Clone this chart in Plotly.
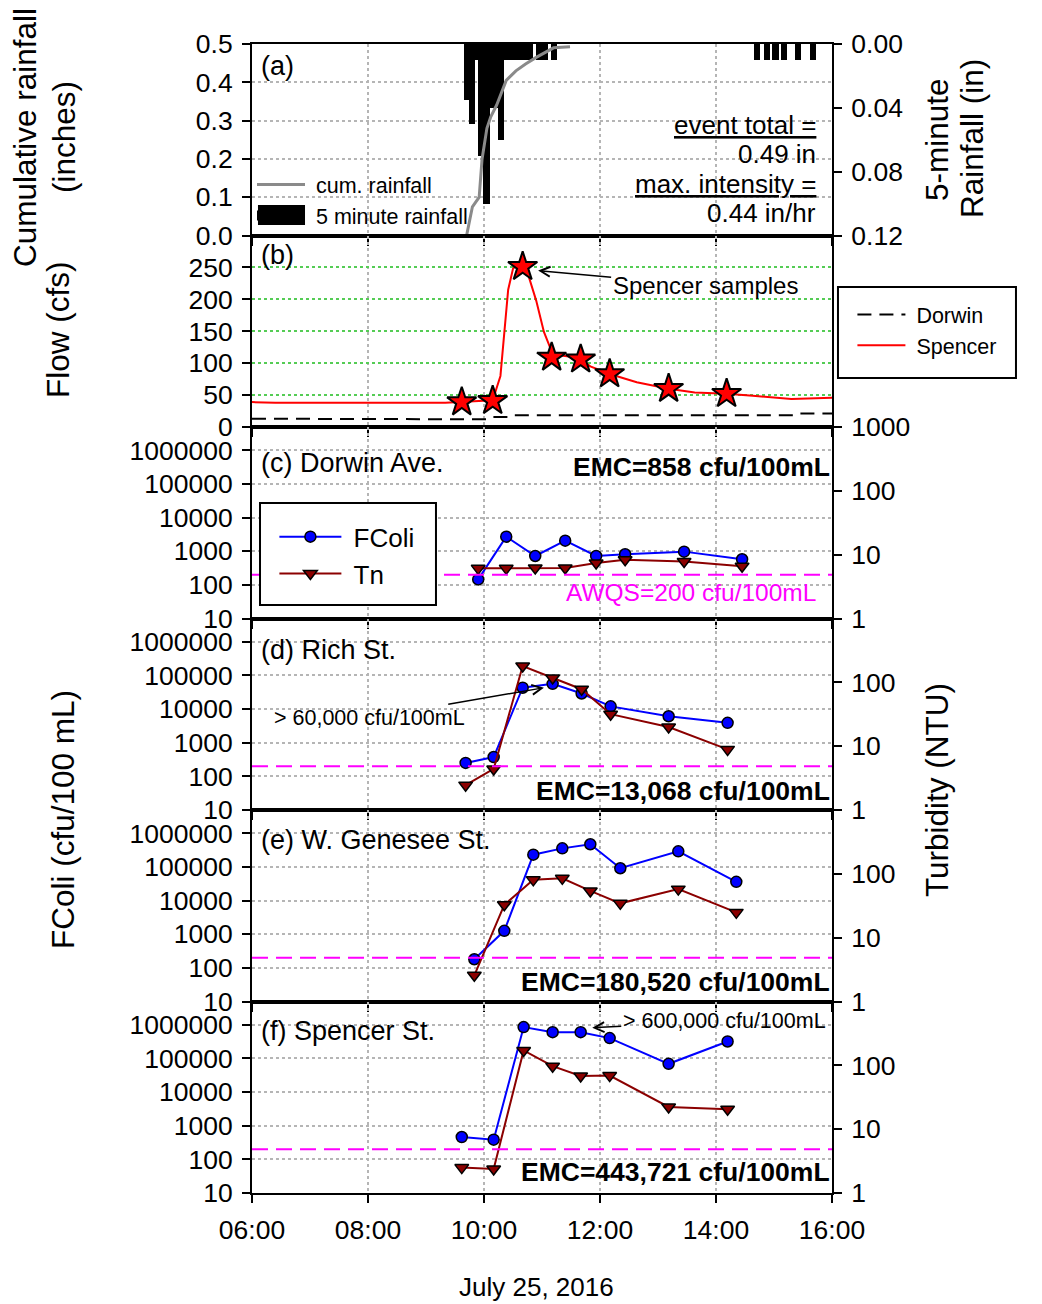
import math
import plotly.graph_objects as go

# ---------------- data ----------------
x_tick_hours = [6, 8, 10, 12, 14, 16]
x_tick_labels = ["06:00", "08:00", "10:00", "12:00", "14:00", "16:00"]

# (a) rainfall
rain_time = ["09:42:30", "09:47:30", "09:52:30", "09:57:30", "10:02:30", "10:07:30",
             "10:12:30", "10:17:30", "10:22:30", "10:27:30", "10:32:30", "10:37:30",
             "10:42:30", "10:47:30", "10:57:30", "11:02:30", "11:12:30",
             "14:42:30", "14:52:30", "15:01:30", "15:10:00", "15:25:00", "15:40:00"]
rain_5min = [0.035, 0.05, 0.01, 0.07, 0.10, 0.04,
             0.04, 0.06, 0.01, 0.01, 0.01, 0.01,
             0.01, 0.01, 0.01, 0.01, 0.01,
             0.01, 0.01, 0.01, 0.01, 0.01, 0.01]
cum_time = ["09:42", "09:48", "09:55", "09:58", "10:03", "10:07", "10:13",
            "10:23", "10:33", "10:43", "10:54", "11:03", "11:12", "11:29"]
cum_rain = [0.0, 0.075, 0.10, 0.20, 0.28, 0.31, 0.34,
            0.405, 0.43, 0.448, 0.465, 0.478, 0.49, 0.493]
event_total = "0.49 in"
max_intensity = "0.44 in/hr"

# (b) flow
spencer_time = ["06:00", "06:24", "09:20", "09:37", "10:02", "10:09", "10:17", "10:21",
                "10:25", "10:30", "10:35", "10:40", "10:46", "10:54", "11:02", "11:08",
                "11:14", "11:30", "11:40", "11:50", "12:10", "12:38", "13:11", "13:38",
                "14:11", "14:38", "15:18", "16:00"]
spencer_flow = [39, 38, 38, 39, 41, 42, 80, 150,
                215, 248, 256, 251, 237, 198, 149, 126,
                113, 110, 106, 95, 83, 70, 60, 54,
                52, 49, 44, 46]
dorwin_time = ["06:00", "06:51", "06:54", "10:03", "10:07", "10:27", "10:30", "15:20", "15:23", "16:00"]
dorwin_flow = [13, 13, 12, 12, 15.5, 15.5, 18.5, 18.5, 21, 21]
sample_time = ["09:37", "10:09", "10:40", "11:10", "11:40", "12:10", "13:11", "14:11"]
sample_flow = [39, 41, 251, 109, 106, 83, 60, 52]

# (c)-(f) sites
site_labels = ["(c) Dorwin Ave.", "(d) Rich St.", "(e) W. Genesee St.", "(f) Spencer St."]
site_emc = ["EMC=858 cfu/100mL", "EMC=13,068 cfu/100mL",
            "EMC=180,520 cfu/100mL", "EMC=443,721 cfu/100mL"]
dorwin_t = ["09:54", "10:23", "10:53", "11:24", "11:56", "12:26", "13:27", "14:27"]
dorwin_fcoli = [145, 2700, 720, 2050, 720, 810, 970, 575]
dorwin_tn = [6.1, 6.1, 6.2, 6.2, 7.4, 8.3, 7.8, 6.6]
rich_t = ["09:41", "10:10", "10:40", "11:11", "11:41", "12:11", "13:11", "14:12"]
rich_fcoli = [250, 375, 43000, 56000, 29000, 12000, 6100, 3900]
rich_tn = [2.45, 4.4, 180, 117, 78, 31.7, 20, 8.9]
genesee_t = ["09:50", "10:21", "10:51", "11:21", "11:50", "12:21", "13:21", "14:21"]
genesee_fcoli = [180, 1260, 230000, 355000, 470000, 91000, 290000, 36000]
genesee_tn = [2.57, 32.8, 80.5, 85, 54, 34.5, 57.6, 24.9]
spencer_t = ["09:37", "10:10", "10:41", "11:11", "11:40", "12:10", "13:11", "14:12"]
spencer_fcoli = [460, 385, 850000, 600000, 600000, 400000, 69000, 318000]
spencer_tn = [2.5, 2.37, 171, 97, 68, 69, 22.3, 20.5]
AWQS = 200

# annotation targets
peak_note = ("10:56", 245)
rich_note = ("11:02", 43000)
spencer_note = ("11:52", 810000)

fcoli_ticks = [10, 100, 1000, 10000, 100000, 1000000]
turb_ticks = [1, 10, 100, 1000]

# ---------------- helpers ----------------
def hrs(s):
    p = [int(v) for v in s.split(":")]
    while len(p) < 3:
        p.append(0)
    return p[0] + p[1] / 60 + p[2] / 3600

def H(lst):
    return [hrs(s) for s in lst]

FONT = "Liberation Sans, Arial, sans-serif"
TICKF = dict(family=FONT, size=26.5, color="black")
GRIDC = "#b5b5b5"
BAR_W = 6.5 / 60
NB = "\u00a0"

fig = go.Figure()

# ---- (a)
fig.add_trace(go.Bar(x=H(rain_time), y=rain_5min, width=BAR_W, marker_color="black",
                     marker_line_width=0, xaxis="x", yaxis="y", showlegend=False))
fig.add_trace(go.Scatter(x=H(cum_time), y=cum_rain, mode="lines", name=NB + "cum. rainfall",
                         line=dict(color="#8a8a8a", width=3), xaxis="x", yaxis="y2",
                         legend="legend"))
fig.add_trace(go.Scatter(x=[None], y=[None], mode="lines", name=NB + "5 minute rainfall",
                         line=dict(color="black", width=10), xaxis="x", yaxis="y2",
                         legend="legend"))

# ---- (b)
fig.add_trace(go.Scatter(x=H(dorwin_time), y=dorwin_flow, mode="lines", name=NB + "Dorwin",
                         line=dict(color="black", width=2, dash="14px,8px"),
                         xaxis="x2", yaxis="y3", legend="legend2"))
fig.add_trace(go.Scatter(x=H(spencer_time), y=spencer_flow, mode="lines", name=NB + "Spencer",
                         line=dict(color="#ff0000", width=2),
                         xaxis="x2", yaxis="y3", legend="legend2"))
fig.add_trace(go.Scatter(x=H(sample_time), y=sample_flow, mode="markers", showlegend=False,
                         marker=dict(symbol="star", size=22, color="#ff0000",
                                     line=dict(color="black", width=2)),
                         xaxis="x2", yaxis="y3"))

# ---- (c)-(f)
sites = [(dorwin_t, dorwin_fcoli, dorwin_tn),
         (rich_t, rich_fcoli, rich_tn),
         (genesee_t, genesee_fcoli, genesee_tn),
         (spencer_t, spencer_fcoli, spencer_tn)]
for i, (t, fc, tn) in enumerate(sites):
    xa = "x%d" % (3 + i)
    yl = "y%d" % (4 + 2 * i)
    yr = "y%d" % (5 + 2 * i)
    fig.add_trace(go.Scatter(x=H(t), y=fc, mode="lines+markers", name=NB + "FColi",
                             line=dict(color="#0000ff", width=2),
                             marker=dict(symbol="circle", size=11, color="#0000ff",
                                         line=dict(color="black", width=1.5)),
                             xaxis=xa, yaxis=yl, legend="legend3", showlegend=(i == 0)))
    fig.add_trace(go.Scatter(x=H(t), y=tn, mode="lines+markers", name=NB + "Tn",
                             line=dict(color="#8b0000", width=2),
                             marker=dict(symbol="triangle-down", size=12, color="#8b0000",
                                         line=dict(color="black", width=1.5)),
                             xaxis=xa, yaxis=yr, legend="legend3", showlegend=(i == 0)))

# ---------------- layout ----------------
# the page body adds an 8px offset; the figure is sized so the plot area lands at 252..832 / 44..1193
n = 6
doms = [[(n - 1 - k) / n, (n - k) / n] for k in range(n)]

layout = dict(
    width=1034, height=1296,
    margin=dict(l=244, r=210, t=36, b=111),
    paper_bgcolor="white", plot_bgcolor="white",
    font=dict(family=FONT, size=24, color="black"),
    bargap=0,
)

for k in range(n):
    name = "xaxis" if k == 0 else "xaxis%d" % (k + 1)
    anchor = {0: "y", 1: "y3", 2: "y4", 3: "y6", 4: "y8", 5: "y10"}[k]
    layout[name] = dict(
        domain=[0, 1], anchor=anchor, range=[6, 16],
        tickvals=x_tick_hours, ticktext=x_tick_labels,
        showticklabels=(k == n - 1), tickfont=TICKF, ticklabelstandoff=4,
        ticks="outside", ticklen=8, tickwidth=2, tickcolor="black",
        showline=True, linewidth=2, linecolor="black", mirror=True,
        showgrid=True, gridcolor=GRIDC, griddash="dot", gridwidth=1.5,
        zeroline=False,
    )

axis_common = dict(showline=True, linewidth=2, linecolor="black",
                   ticks="outside", ticklen=8, tickwidth=2, tickcolor="black",
                   tickfont=TICKF, zeroline=False, ticklabelstandoff=4)

# (a) rain (right, reversed) and cumulative (left)
layout["yaxis"] = dict(domain=doms[0], anchor="x", side="right", range=[0.12, 0],
                       tickvals=[0, 0.04, 0.08, 0.12], tickformat=".2f",
                       showgrid=False, **axis_common)
layout["yaxis2"] = dict(domain=doms[0], anchor="x", side="left", overlaying="y",
                        range=[0, 0.5], dtick=0.1, tickformat=".1f",
                        showgrid=True, gridcolor=GRIDC, griddash="dot", gridwidth=1.5,
                        **axis_common)
# (b)
layout["yaxis3"] = dict(domain=doms[1], anchor="x2", range=[0, 300],
                        tickvals=[0, 50, 100, 150, 200, 250],
                        showgrid=True, gridcolor="#55cc55", griddash="dot", gridwidth=1.5,
                        mirror=True, **axis_common)
# (c)-(f)
for i in range(4):
    k = 2 + i
    yl = "yaxis%d" % (4 + 2 * i)
    yr = "yaxis%d" % (5 + 2 * i)
    xa = "x%d" % (3 + i)
    layout[yl] = dict(domain=doms[k], anchor=xa, type="log", range=[1, 6.69],
                      tickvals=fcoli_ticks, ticktext=[str(v) for v in fcoli_ticks],
                      showgrid=True, gridcolor=GRIDC, griddash="dot", gridwidth=1.5,
                      **axis_common)
    tv = turb_ticks if i == 0 else turb_ticks[:3]
    layout[yr] = dict(domain=doms[k], anchor=xa, type="log", range=[0, 3],
                      side="right", overlaying="y%d" % (4 + 2 * i),
                      tickvals=tv, ticktext=[str(v) for v in tv],
                      showgrid=False, **axis_common)

# legends
layout["legend"] = dict(x=0.0, y=0.8956, xanchor="left", yanchor="top",
                        bgcolor="rgba(0,0,0,0)", borderwidth=0,
                        font=dict(family=FONT, size=21.5), itemwidth=48,
                        tracegroupgap=0)
layout["legend2"] = dict(x=1.0352, y=0.7825, xanchor="left", yanchor="top",
                         bgcolor="rgba(0,0,0,0)", borderwidth=0,
                         font=dict(family=FONT, size=21.5), itemwidth=48)
layout["legend3"] = dict(x=0.0386, y=0.5916, xanchor="left", yanchor="top",
                         bgcolor="rgba(0,0,0,0)", borderwidth=0,
                         font=dict(family=FONT, size=26), itemwidth=62)

fig.update_layout(**layout)

# shapes: AWQS lines, legend boxes, wide legend swatch for the rainfall bars
shapes = []
for i in range(4):
    shapes.append(dict(type="line", xref="x%d domain" % (3 + i), yref="y%d" % (4 + 2 * i),
                       x0=0, x1=1, y0=AWQS, y1=AWQS,
                       line=dict(color="#ff00ff", width=2, dash="16px,8px")))
shapes.append(dict(type="rect", xref="paper", yref="paper", x0=1.0103, x1=1.3172,
                   y0=0.7093, y1=0.7885, line=dict(color="black", width=2),
                   fillcolor="white", layer="above"))
shapes.append(dict(type="rect", xref="paper", yref="paper", x0=0.0138, x1=0.3172,
                   y0=0.5118, y1=0.6005, line=dict(color="black", width=2),
                   fillcolor="white", layer="above"))
shapes.append(dict(type="rect", xref="paper", yref="paper", x0=0.0103, x1=0.0914,
                   y0=0.8425, y1=0.8599, line=dict(width=0),
                   fillcolor="black", layer="above"))
fig.update_layout(shapes=shapes)

ann = []
def A(text, x, y, xref, yref, xanchor="left", yanchor="middle", size=24, **kw):
    ann.append(dict(text=text, x=x, y=y, xref=xref, yref=yref, xanchor=xanchor,
                    yanchor=yanchor, showarrow=False,
                    font=dict(family=FONT, size=size, color=kw.pop("color", "black")), **kw))

# panel labels
A("(a)", 0.012, 0.885, "x domain", "y domain", size=27)
A("(b)", 0.012, 0.898, "x2 domain", "y3 domain", size=27)
lab_y = [0.812, 0.836, 0.843, 0.846]
emc_y = [0.79, 0.10, 0.10, 0.11]
for i in range(4):
    A(site_labels[i], 0.012, lab_y[i], "x%d domain" % (3 + i), "y%d domain" % (4 + 2 * i),
      size=27)
    A("<b>%s</b>" % site_emc[i], 1.0, emc_y[i], "x%d domain" % (3 + i),
      "y%d domain" % (4 + 2 * i), xanchor="right", size=26.5)
A("AWQS=%d cfu/100mL" % AWQS, 0.976, 0.138, "x3 domain", "y4 domain", xanchor="right",
  color="#ff00ff", size=24.5)

# (a) text block
A("<u>event total =</u>", 0.976, 0.577, "x domain", "y domain", xanchor="right", size=26)
A(event_total, 0.976, 0.426, "x domain", "y domain", xanchor="right", size=26)
A("<u>max. intensity =</u>", 0.976, 0.269, "x domain", "y domain", xanchor="right", size=26)
A(max_intensity, 0.976, 0.117, "x domain", "y domain", xanchor="right", size=26)

# axis titles (paper coords of the plot area 252..832 x 44..1193)
def px(xp):
    return (xp - 252) / 580
def py(yp):
    return (1193 - yp) / 1149

TS = 31.5
A("Cumulative rainfall", px(25), py(138), "paper", "paper", xanchor="center", size=TS, textangle=-90)
A("(inches)", px(64), py(137), "paper", "paper", xanchor="center", size=TS, textangle=-90)
A("Flow (cfs)", px(58), py(330), "paper", "paper", xanchor="center", size=TS, textangle=-90)
A("FColi (cfu/100 mL)", px(63), py(820), "paper", "paper", xanchor="center", size=TS,
  textangle=-90)
A("5-minute", px(937), py(140), "paper", "paper", xanchor="center", size=TS, textangle=-90)
A("Rainfall (in)", px(972), py(139), "paper", "paper", xanchor="center", size=TS, textangle=-90)
A("Turbidity (NTU)", px(937), py(790), "paper", "paper", xanchor="center", size=TS,
  textangle=-90)
A("July 25, 2016", px(536), py(1287), "paper", "paper", xanchor="center", size=26)

# arrows
ann.append(dict(text="Spencer samples", x=hrs(peak_note[0]), y=peak_note[1], xref="x2", yref="y3",
                ax=167, ay=15, showarrow=True, arrowhead=5, arrowsize=1.3, arrowwidth=1.5,
                arrowcolor="black", font=dict(family=FONT, size=24, color="black")))
ann.append(dict(text="&gt; 60,000 cfu/100mL", x=hrs(rich_note[0]), y=math.log10(rich_note[1]),
                xref="x4", yref="y6",
                ax=-174, ay=30, showarrow=True, arrowhead=5, arrowsize=1.3, arrowwidth=1.5,
                arrowcolor="black", font=dict(family=FONT, size=21.5, color="black")))
ann.append(dict(text="&gt; 600,000 cfu/100mL", x=hrs(spencer_note[0]),
                y=math.log10(spencer_note[1]), xref="x6", yref="y10",
                ax=132, ay=-7, showarrow=True, arrowhead=5, arrowsize=1.3, arrowwidth=1.5,
                arrowcolor="black", font=dict(family=FONT, size=21.5, color="black")))

fig.update_layout(annotations=ann)

fig.write_html("out.html")
